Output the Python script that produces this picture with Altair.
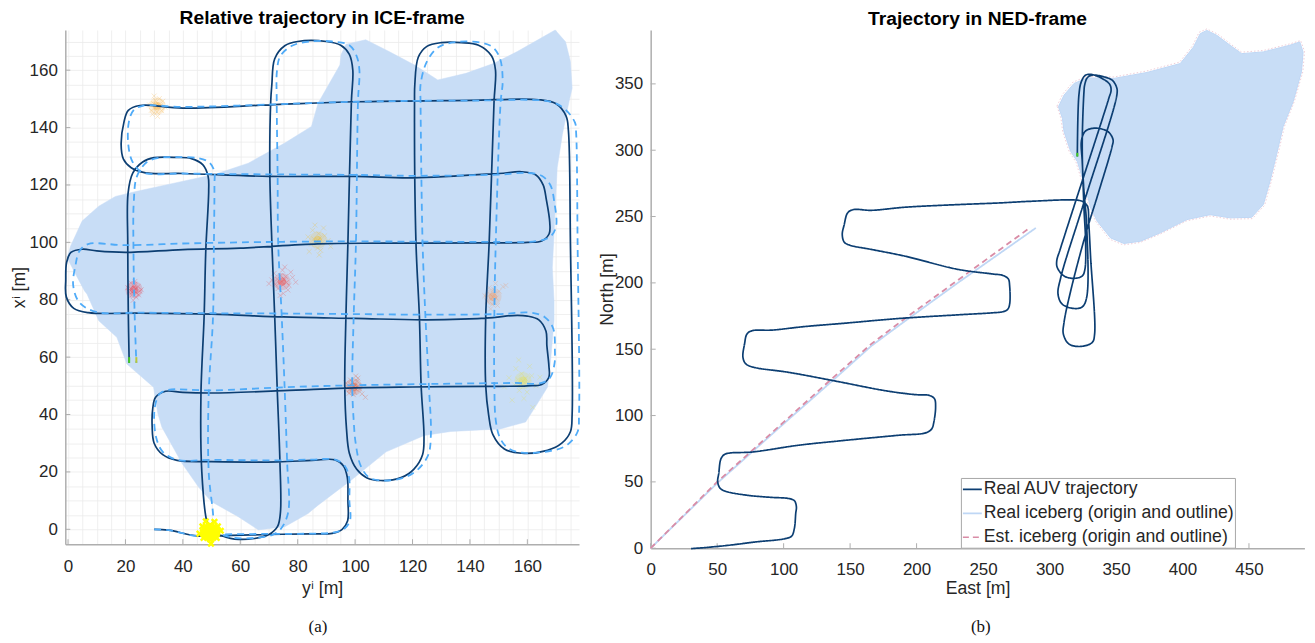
import altair as alt
import pandas as pd

# ---------- left panel values (y^i, x^i) ----------
auv_ice = [(30,0),(35,-0.3),(45,-2.3),(54,-2.2),(70,-1.8),(85,-1.6),(92,-1.4),(95.5,0),(97.4,3),(97.5,10),(97.3,18),(96,22),(93,24.2),
(85,24),(73,23.5),(50,23.6),(38,24),(33,26),(30,30),(29.3,36),(29.5,42),(30.5,46),(34,48.1),(40,47.7),(50,47.5),(75,48.3),(100,49.3),(120,49.6),(145,49.8),(160,50),(165,50.5),(167.5,53),(167.5,57),
(166.8,64),(166.5,69),(164,73),(160,74.3),(155,74.5),(148,73.8),(125,73),(100,73.5),(75,74),(50,75),(25,75.3),(7,75.5),(2,77),(-0.6,81),(-0.8,87),(-0.5,93),(1,96.5),(5,97.6),
(10,97),(20,96.5),(40,97.5),(60,98),(87,99.5),(110,99.7),(145,99.8),(160,100),(165,100.5),(167.6,103),(167.8,107),(166.6,115),(165.5,120),(163,123.5),(158,124.6),(150,124),(120,122.5),(100,123),(70,123),(40,124),(27,124.2),(22,126),(19.3,129),
(18.5,134),(19.5,142),(21,146),(25,147.7),(40,146.8),(72,148),(100,149),(140,149.5),(164,149.7),(170,148.3),(173.5,144),(174.3,139),(175,100),(175.6,40),(175,34),(172,30),(167,27.5),(158,26.5),(152,28),(148,33),(146.5,40),
(145.5,50),(145.5,74),(146.7,100),(148.4,149),(148.9,160),(147.5,165),(143,168.7),(137,169.6),(130,169.6),(125,168.3),(122,164.5),(120.8,155),(120.7,149),(121.2,100),(122.4,74),(123,50),(124,32),(123.5,26),(120.5,21),(116,18),(109,17),(104,18),(100.5,21),(98,26.5),(97,35),
(96.4,50),(96.8,74),(97.5,100),(98.7,149),(99.2,160),(98,165.5),(95,168.7),(90,170),(80,170),(75.5,168.5),(72,164),(71,155),(70.6,149),(70.3,124),(71,100),(72,74),(72.9,48),(73.8,24),(74,6),(73,1),(70,-1.8),(65,-3.2),(58,-3.4),(54,-2.4),(50,-1),(48.3,3),
(46.6,20),(46.3,47),(47.4,74),(48,97.5),(49,118),(48.8,123),(47,127),(43,129.2),(38,129.6),(30,129.5),(26,128),(22.5,124),(20.9,117),(20.8,100),(21,75),(21.3,58)]

est_ice = [(30,0),(35,-0.3),(45,-2.3),(54,-1.8),(70,-1.6),(85,-1.5),(92,-1.2),(96,0),(98.2,3),(98,10),(97.9,18),(96.5,22),(93,24.3),
(85,24.3),(73,24),(50,24.2),(38,24.2),(33,27),(30.7,32),(30,40),(30.8,45),(32,47.3),(35,48.6),(50,48.4),(75,49.5),(100,50.2),(130,50.7),(155,51),(165,51),(168,53),(169.5,58),
(169.6,62),(169,70),(166,74),(161,75.5),(150,75),(125,74.8),(100,75),(75,75.2),(50,75.3),(25,75.5),(10,75.7),(4,79),(1.8,85),(2.6,92),(4,97),(7,99.4),
(20,99),(40,99.6),(60,100),(87,100.3),(110,100.3),(145,100.2),(163,100.4),(168,102),(170,105.5),(169.4,114),(168,120),(165,123.2),(160,124.2),(150,123.6),(120,123.2),(100,123.5),(70,123.7),(40,124),(26,124.4),(22.5,128),(21,134),
(21.2,142),(22.8,146),(26,147.6),(40,147.2),(72,148.1),(100,149),(140,149.4),(168,149),(173,146.5),(176.6,141.7),(177,138),(177.5,100),(178,40),(177.5,34),(174,29.5),(169,27.5),(158,26.7),(153,28.5),(150.4,32),(149,38),
(148.5,50),(148.5,74),(149,100),(150.7,149),(151.4,156),(150.5,164),(148,168),(144,169.6),(135,169.8),(129,168),(125,163),(122.8,155),(122.8,149),(123.5,100),(124.5,74),(125.7,50),(126.4,33),(125.5,26),(122,21),(117,18),(110,17),(105,18),(102,22),(100.2,30),(99.5,38),
(99,50),(99.5,74),(100.3,100),(101,149),(101.5,160),(100.5,165),(98,168.7),(92,170),(84,170),(78,168.5),(74,165),(72.8,160),(72.7,149),(73,124),(73.2,100),(74.4,75),(75.5,48),(76.3,24),(76.7,6),(74,0),(71,-2),(65,-3),(58,-3),(54,-2),(50,-1),(50.6,3),
(49,20),(49,47),(50.5,74),(50.8,98),(51,120),(50.9,125),(49,128),(45,129.4),(38,129.7),(32,129.5),(27.5,128),(24,123),(22.9,114),(22.8,97),(23.2,75),(23.8,58)]

ice_outline_left = [(0.9,98.7),(4.9,107.4),(10.7,112.6),(16.5,116),(24,117.8),(37.3,120.7),(51.2,123.7),(62.8,127.6),(75.5,134.6),(84.8,140.4),(87.1,148.5),(94.7,161.8),(95.1,165.4),(96.8,169),(103.7,170.6),(112,166.4),(120.7,161.8),(128.8,156.6),
(138.6,158.9),(148.4,162.4),(156.5,166.5),(169.7,174),(173.3,169.9),(175,163),(175.6,153.7),(174.5,149),(172.2,137.6),(170.4,126),(169.8,114.3),(169.3,102.8),(168.7,91.2),(169.3,79.6),(169.3,72.7),(168,57.7),(167,49.5),(163.5,43.8),(159.4,37.4),(150.6,35),(133.3,34.1),(124.1,32.7),(110.8,27),(98.6,17.1),
(87.1,8.4),(83.6,5.5),(75.5,0.9),(66.3,-0.2),(59.3,4.4),(50,9.6),(45.4,14.8),(39.7,23),(32.7,35.6),(31.3,40.3),(29.8,49.5),(20.5,57.6),(17,66.9),(10.7,72.7),(6.6,82),(5.8,83),(2.6,89),(-0.3,94.6)]

# hand-read marker clusters on the left panel
c1_x = [30.9,31.4,30.2,32.1,29.8,31.0,33.0,29.0,31.8,30.4,28.4,32.6,31.2,30.0,33.8,29.4,31.6,30.7]
c1_y = [147.2,148.1,146.8,147.6,148.4,145.4,149.2,146.0,150.1,149.5,147.9,145.9,143.9,151.0,147.1,144.6,147.3,148.0]
c2_x = [23.0,23.5,22.4,22.9,23.9,21.8,24.4,22.2,23.2,25.0,21.2,23.7,24.6,21.9,22.7,23.3,20.8,25.5]
c2_y = [83.1,83.8,82.6,84.4,82.3,83.9,84.6,81.6,85.4,83.0,82.8,80.9,81.7,85.9,79.8,86.4,84.2,83.5]
c3_x = [74.5,75.3,73.6,74.9,76.1,72.9,75.8,74.1,77.0,72.2,73.2,76.6,71.0,78.2,74.7,75.0,70.0,79.3,71.8,77.6,73.9,75.5]
c3_y = [86.3,87.1,85.8,85.2,86.0,87.2,88.1,88.4,85.0,85.4,83.9,83.4,86.9,87.8,90.3,82.2,85.6,86.1,89.2,89.6,81.5,91.4]
c4_x = [87.0,87.8,86.3,88.5,85.6,87.3,89.4,84.8,86.9,88.0,90.6,83.6,85.2,89.0,87.5,86.0,91.5,84.0]
c4_y = [100.7,101.5,100.0,99.9,101.2,103.0,102.3,99.4,98.0,97.2,100.6,101.9,104.2,105.0,95.6,106.0,98.5,96.8]
c5_x = [148.0,148.6,147.4,149.1,147.0,148.3,150.2,146.0,147.8,151.5,145.2,149.6,148.9,147.2,152.5,146.7]
c5_y = [81.0,82.0,80.2,80.6,81.9,83.6,83.0,79.5,78.4,84.6,81.4,78.0,85.7,76.8,85.0,84.2]
c6_x = [99.5,100.0,99.0,98.6,100.4,99.2,101.1,98.0,99.8,97.5,101.6,100.7,98.4,99.4,102.4,96.8,103.6,97.9,101.0,100.2]
c6_y = [49.6,50.2,49.0,50.4,48.8,51.2,50.0,48.6,47.8,49.5,48.9,51.6,52.0,46.9,47.2,51.0,46.0,47.4,52.7,53.4]
c7_x = [158.5,159.3,157.6,160.1,156.7,158.0,161.5,155.5,157.2,159.9,153.6,163.0,156.0,160.8,158.8,152.0,164.4,154.7,157.0,161.9]
c7_y = [51.6,52.6,50.8,51.0,52.2,54.2,53.5,50.4,48.4,47.8,52.8,50.0,56.0,56.8,45.6,49.6,53.0,45.0,59.0,42.5]
clusters = [("c1",c1_x,c1_y,"#F5B041"),("c2",c2_x,c2_y,"#E8404F"),("c3",c3_x,c3_y,"#EE4A4A"),("c4",c4_x,c4_y,"#F0C030"),
            ("c5",c5_x,c5_y,"#EE9966"),("c6",c6_x,c6_y,"#E85A30"),("c7",c7_x,c7_y,"#E6E04A")]
core_x = [31,23,74.5,87,148,99.5,158.5]
core_y = [147.5,83.5,86.3,100.8,81,49.6,51.8]
blob_x = [49.5,47,52,49.5,49.5,46.8,52.2,47.2,51.8,45.8,53.2,48,51,49.8]
blob_y = [-1,-1,-1,1.5,-3.5,1,1,-3,-3,-1.5,-0.5,2.8,2.6,-5]

# ---------- right panel values (East, North) ----------
auv_ned = [(30.4,-0.3),(41.2,0.5),(61.2,2.5),(78.6,4.7),(101.1,7.2),(106.1,9.2),(108.1,15),(109.1,26.2),(109.6,31.3),(108.1,35.8),(103.6,37.5),(91.1,38.3),(73.6,39.8),(56.7,42.8),(52.4,45),(50.4,50),(51.2,56.3),(52.9,67.5),(55.7,70.8),(59.9,71.8),(76.1,72.5),
(111.1,77.6),(141.1,80.8),(186,85.1),(207.3,87.1),(211.5,90.1),(213,95.1),(214.3,106.3),(213.5,112.6),(209.8,115.1),(198.5,115.8),(176,118.8),(141,125.6),(103.6,132.6),(77.4,136.4),(71.6,138.9),(69.4,143.9),(70.6,153.9),(72.4,161.4),(76.1,163.9),(91.1,164.4),
(116.1,167.1),(146,169.6),(186,173.1),(231,175.9),(258,177.5),(264.7,178.2),(268.5,180),(270,184),(270,197.7),(269,203),(265,205.6),(257.2,206.7),(231,210.2),(191,220.2),(166,225.2),(149.8,228.4),(145.6,230.7),(144.1,236.5),(145.6,244),(148.1,252.7),(152.3,255.2),(166,254.7),(191,257),(231,259),
(261,260.2),(286,261.5),(318.4,262.5),(324.6,261.5),(328.4,258),(329.5,245),(330.9,219),(333.9,161.4),(332.1,155.1),(323.4,152.1),(314.6,153.9),(310.4,161.4),(310.9,170.2),(315.9,193.9),(327.1,236.5),(337.1,269),(347.1,303),(347.8,307.8),(344.6,313.5),(340,315.8),(333.4,316.6),(327.1,314.5),(324.1,307.8),(324.6,291.5),
(325.9,269),(327.9,244),(327.9,188.9),(324.6,181.9),(318.4,180.7),(309.6,183.9),(306.4,191.4),(308.4,203.9),(326,261),(350.8,342.8),(350.3,347.8),(347.1,352.8),(340.9,355.3),(332.1,356.6),(328.4,354.6),(326.4,349.1),(325.9,344.1),(324.6,304),(325.9,256.5),(327.1,231.5),(326.6,210.2),(324.6,205.2),(318.4,203.4),(310.9,205.2),(305.9,211.4),(305.4,216.4),(308.4,226.5),
(344.6,339.1),(346.3,345.3),(345.3,349.6),(340.9,353.3),(332.1,357),(327.1,356.6),(323.9,351.6),(322.1,341.6),(320.9,295.3)]

origin_real = [(0,0),(50,49),(100,93.8),(135.9,125.5),(166,152.5),(191,171),(231,200),(289.7,241.4)]
origin_est = [(0,0),(50,50),(100,95),(136,127.5),(166,154),(191,173),(231,202),(283.4,240.2)]

ice_outline_real = [(306.7,332.8),(310.9,341.5),(318.4,350.3),(328.4,354.5),(348.4,354.1),(373.3,358.6),(398.3,365.3),(408.3,377.8),(413.3,387.8),(418.3,390.3),(425.8,386.6),(435.8,379.1),(444.5,372.8),(460.8,374.1),(480.7,379.1),(488.2,381.6),(490.7,374.1),(489.5,359.1),(483.2,336.5),
(475.7,317.8),(470.7,296.5),(465.8,276.5),(460.8,259),(452,249.4),(435.8,249),(420.8,251.4),(403.3,247.7),(383.3,237.7),(368.4,231.4),(355.9,229.7),(345.9,233.9),(335.9,246.4),(330.9,256.4),(327.1,271.5),(320.9,291.5),(315.9,299),(310.9,314),(309.7,324)]
ice_outline_est = [(305.6,333.3),(309.9,342.3),(317.6,351.3),(328,355.6),(348.4,355.2),(373,359.7),(397.8,366.4),(407.5,378.6),(412.5,388.9),(418.3,391.4),(426.5,387.5),(436.3,380),(444.5,373.9),(461,375.2),(481,380.2),(488.9,382.7),(491.8,374.5),(490.6,359.5),(484.2,336.9),
(476.8,318.2),(471.8,296.9),(466.8,276.5),(461.8,258.6),(452.5,248.4),(435.8,248),(420.8,250.4),(403,246.7),(383,236.7),(368,230.4),(355.5,228.6),(345,233),(335,246),(329.9,256),(326,271),(319.9,291),(314.9,298.6),(309.9,314),(308.6,324)]

x_ticks_left = [0,20,40,60,80,100,120,140,160]
y_ticks_left = [0,20,40,60,80,100,120,140,160]
x_ticks_right = [0,50,100,150,200,250,300,350,400,450]
y_ticks_right = [0,50,100,150,200,250,300,350]
grid_left = list(range(0,180,5))
legend_names = ["Real AUV trajectory","Real iceberg (origin and outline)","Est. iceberg (origin and outline)"]

DARK = "#0C3E72"; DASH = "#4FABF8"; FILL = "#C8DDF6"; REAL = "#BFD7F5"; EST = "#D98CA6"
TXT = "#262626"; FONT = "Liberation Sans"

def tbl(pairs, **kw):
    d = pd.DataFrame(pairs, columns=["a","b"])
    d["i"] = range(len(d))
    for k, v in kw.items():
        d[k] = v
    return d

# ---------- left panel ----------
W1, H1 = 515.5, 516
sx1 = alt.Scale(domain=[-0.95,178], nice=False, zero=False)
sy1 = alt.Scale(domain=[-5.2,174], nice=False, zero=False)
ax_kw = dict(labelFont=FONT, labelFontSize=17, labelColor=TXT, titleFont=FONT, titleFontSize=17.7,
             titleColor=TXT, titleFontWeight="normal", domainColor="#AEAEAE", domainWidth=1.5, ticks=False, labelFlush=False, labelOverlap=False)
X1 = alt.X("a:Q", scale=sx1, axis=alt.Axis(title="yⁱ [m]", values=grid_left, grid=True, gridColor="#EBEBEB", gridWidth=0.8,
        labelExpr="datum.value % 20 === 0 ? datum.label : ''", labelPadding=14, titlePadding=5, **ax_kw))
Y1 = alt.Y("b:Q", scale=sy1, axis=alt.Axis(title="xⁱ [m]", values=grid_left, grid=True, gridColor="#EBEBEB", gridWidth=0.8,
        labelExpr="datum.value % 20 === 0 ? datum.label : ''", labelPadding=8, titlePadding=1, **ax_kw))
ORD = alt.Order("i:Q")

fill1 = alt.Chart(tbl(ice_outline_left)).mark_line(fill=FILL, stroke=FILL, strokeWidth=0.5, interpolate="linear-closed").encode(x=X1, y=Y1, order=ORD)
solid1 = alt.Chart(tbl(auv_ice)).mark_line(color=DARK, strokeWidth=1.7, interpolate="catmull-rom").encode(x=X1, y=Y1, order=ORD)
dash1 = alt.Chart(tbl(est_ice)).mark_line(color=DASH, strokeWidth=1.8, strokeDash=[7,5], interpolate="catmull-rom").encode(x=X1, y=Y1, order=ORD)

cl_rows = []
for name, xs, ys, col in clusters:
    cl_rows += [{"a":p,"b":q,"c":name} for p, q in zip(xs, ys)]
CROSS = "M-1,-1L1,1M-1,1L1,-1"
CLDOM = alt.Scale(domain=[c[0] for c in clusters], range=[c[3] for c in clusters])
clus = alt.Chart(pd.DataFrame(cl_rows)).mark_point(shape=CROSS, filled=False, size=24, opacity=0.4, strokeWidth=0.7).encode(
    x=X1, y=Y1, stroke=alt.Stroke("c:N", legend=None, scale=CLDOM))
core_df = pd.DataFrame({"a":core_x,"b":core_y,"c":[c[0] for c in clusters]})
core_wide = alt.Chart(core_df).mark_circle(size=300, opacity=0.2).encode(x=X1, y=Y1, fill=alt.Fill("c:N", legend=None, scale=CLDOM))
core_tight = alt.Chart(core_df).mark_circle(size=70, opacity=0.4).encode(x=X1, y=Y1, fill=alt.Fill("c:N", legend=None, scale=CLDOM))
blob_df = pd.DataFrame({"a":blob_x,"b":blob_y})
blob = alt.Chart(blob_df).mark_point(shape=CROSS, filled=False, size=30, color="#FFFF00", opacity=1, strokeWidth=2.5).encode(x=X1, y=Y1)
blob_core = alt.Chart(pd.DataFrame({"a":[49.5],"b":[-1.0]})).mark_circle(size=340, color="#FFFF00", opacity=1).encode(x=X1, y=Y1)
ends1a = alt.Chart(tbl([(21.3,60),(21.3,58)])).mark_line(color="#44CC22", strokeWidth=2).encode(x=X1, y=Y1, order=ORD)
ends1b = alt.Chart(tbl([(23.8,60),(23.8,58)])).mark_line(color="#B8C83A", strokeWidth=2).encode(x=X1, y=Y1, order=ORD)

tickx1 = alt.Chart(pd.DataFrame({"a":x_ticks_left})).mark_rule(color="#AEAEAE", strokeWidth=1).encode(x=X1, y=alt.value(H1), y2=alt.value(H1-5))
ticky1 = alt.Chart(pd.DataFrame({"b":y_ticks_left})).mark_rule(color="#AEAEAE", strokeWidth=1).encode(y=Y1, x=alt.value(0), x2=alt.value(5))
cap1 = alt.Chart(pd.DataFrame({"t":["(a)"]})).mark_text(font="Liberation Serif", fontSize=17, color="#111111").encode(
    text="t:N", x=alt.value(320-66.5), y=alt.value(627-28))

left = alt.layer(fill1, tickx1, ticky1, core_wide, core_tight, clus, solid1, dash1, blob_core, blob, ends1a, ends1b, cap1).properties(
    width=W1, height=H1,
    title=alt.TitleParams("Relative trajectory in ICE-frame", font=FONT, fontSize=19.3, fontWeight="bold", color="#000000", anchor="middle", offset=0.5))

# ---------- right panel ----------
W2, H2 = 656, 520
sx2 = alt.Scale(domain=[0,491.7], nice=False, zero=False)
sy2 = alt.Scale(domain=[0,390.6], nice=False, zero=False)
X2 = alt.X("a:Q", scale=sx2, axis=alt.Axis(title="East [m]", values=x_ticks_right, grid=False, labelPadding=13, titlePadding=2, **ax_kw))
Y2 = alt.Y("b:Q", scale=sy2, axis=alt.Axis(title="North [m]", values=y_ticks_right, grid=False, labelPadding=8, titlePadding=-2, **ax_kw))

LEG = dict(title=None, orient="none", legendX=898.7, legendY=449.5, fillColor="#FFFFFF", strokeColor="#A8A8A8", padding=1,
        labelFont=FONT, labelFontSize=17.7, labelColor=TXT, symbolType="stroke", symbolSize=360, symbolStrokeWidth=1.6, rowPadding=4, labelOffset=1, labelLimit=320)
COL = alt.Color("s:N", scale=alt.Scale(domain=legend_names, range=[DARK, REAL, EST]), legend=alt.Legend(**LEG))
DSH = alt.StrokeDash("s:N", scale=alt.Scale(domain=legend_names, range=[[1,0],[1,0],[6,4]]), legend=alt.Legend(**LEG))

fill2 = alt.Chart(tbl(ice_outline_real)).mark_line(fill=FILL, stroke=REAL, strokeWidth=1, interpolate="linear-closed").encode(x=X2, y=Y2, order=ORD)
est2 = alt.Chart(tbl(ice_outline_est)).mark_line(stroke=EST, strokeWidth=0.8, strokeDash=[1.5,2], opacity=0.55, interpolate="linear-closed").encode(x=X2, y=Y2, order=ORD)
org_df = pd.concat([tbl(origin_real, s=legend_names[1]), tbl(origin_est, s=legend_names[2])])
orig = alt.Chart(org_df).mark_line(strokeWidth=1.8).encode(x=X2, y=Y2, order=ORD, detail="s:N", color=COL, strokeDash=DSH)
traj = alt.Chart(tbl(auv_ned, s=legend_names[0])).mark_line(strokeWidth=1.7, interpolate="catmull-rom").encode(x=X2, y=Y2, order=ORD, color=COL, strokeDash=DSH)
ends2 = alt.Chart(tbl([(320.9,298),(320.9,295.3)])).mark_line(color="#44CC22", strokeWidth=2).encode(x=X2, y=Y2, order=ORD)
tickx2 = alt.Chart(pd.DataFrame({"a":x_ticks_right})).mark_rule(color="#AEAEAE", strokeWidth=1).encode(x=X2, y=alt.value(H2), y2=alt.value(H2-5))
ticky2 = alt.Chart(pd.DataFrame({"b":y_ticks_right})).mark_rule(color="#AEAEAE", strokeWidth=1).encode(y=Y2, x=alt.value(0), x2=alt.value(5))
cap2 = alt.Chart(pd.DataFrame({"t":["(b)"]})).mark_text(font="Liberation Serif", fontSize=17, color="#111111").encode(
    text="t:N", x=alt.value(983-651.7), y=alt.value(627-28))

right = alt.layer(fill2, est2, tickx2, ticky2, orig, traj, ends2, cap2).properties(
    width=W2, height=H2,
    title=alt.TitleParams("Trajectory in NED-frame", font=FONT, fontSize=19.3, fontWeight="bold", color="#000000", anchor="middle", offset=-1.5))

chart = alt.hconcat(left, right, spacing=71.4, bounds="flush").resolve_scale(x="independent", y="independent").properties(
    padding={"left":1.5,"top":0,"right":0,"bottom":0}, background="#FFFFFF"
).configure_view(stroke=None)

chart.save("out.html", embed_options={"renderer": "svg", "actions": False})
